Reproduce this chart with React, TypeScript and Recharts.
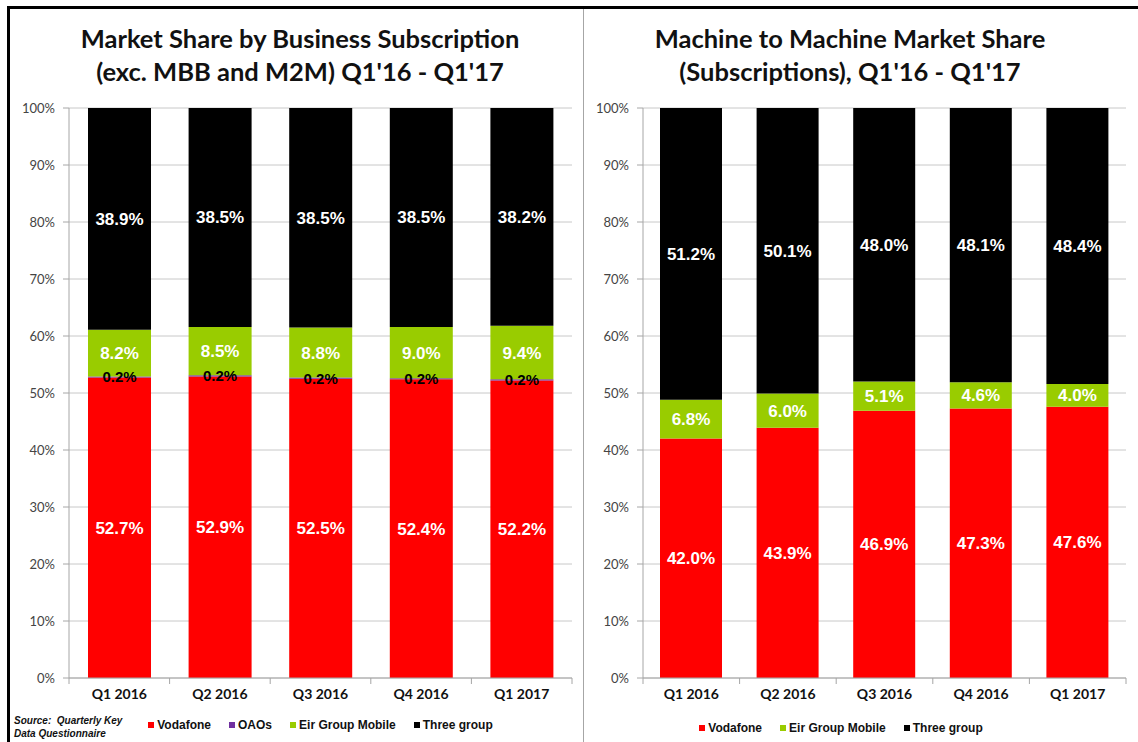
import React from "react";
import { BarChart, Bar, XAxis, YAxis, CartesianGrid, LabelList, Legend } from "recharts";

// categories
const quarters = ["Q1 2016", "Q2 2016", "Q3 2016", "Q4 2016", "Q1 2017"];

// business subscriptions (exc. MBB and M2M), % share
const bizVodafone = [52.7, 52.9, 52.5, 52.4, 52.2];
const bizOaos = [0.2, 0.2, 0.2, 0.2, 0.2];
const bizEir = [8.2, 8.5, 8.8, 9.0, 9.4];
const bizThree = [38.9, 38.5, 38.5, 38.5, 38.2];

// machine to machine subscriptions, % share
const m2mVodafone = [42.0, 43.9, 46.9, 47.3, 47.6];
const m2mEir = [6.8, 6.0, 5.1, 4.6, 4.0];
const m2mThree = [51.2, 50.1, 48.0, 48.1, 48.4];

const yTicks = [0, 10, 20, 30, 40, 50, 60, 70, 80, 90, 100];

const bizData = quarters.map((q, i) => ({
  quarter: q,
  vodafone: bizVodafone[i],
  oaos: bizOaos[i],
  eir: bizEir[i],
  three: bizThree[i],
}));

const m2mData = quarters.map((q, i) => ({
  quarter: q,
  vodafone: m2mVodafone[i],
  eir: m2mEir[i],
  three: m2mThree[i],
}));

const RED = "#FF0000";
const GREEN = "#99CC00";
const PURPLE = "#7030A0";
const BLACK = "#000000";
const GRID = "#c8c8c8";
const AXIS = "#a6a6a6";
const ARIAL = "'Liberation Sans', Arial, sans-serif";
const CALIBRI = "Lato, 'Open Sans', sans-serif";

const pct = (v: any) => `${Number(v).toFixed(1)}%`;

// x tick: label plus Excel-style tick marks between categories
const CategoryTick = (props: any) => {
  const { x, y, payload, index, band } = props;
  const last = index === quarters.length - 1;
  return (
    <g>
      <line x1={x - band / 2} x2={x - band / 2} y1={y} y2={y + 6} stroke={AXIS} />
      {last && <line x1={x + band / 2} x2={x + band / 2} y1={y} y2={y + 6} stroke={AXIS} />}
      <text
        x={x}
        y={y + 21}
        textAnchor="middle"
        fontFamily={CALIBRI}
        fontWeight={700}
        fontSize={14}
        fill="#111"
      >
        {payload.value}
      </text>
    </g>
  );
};

const LegendRow = ({ items }: { items: { name: string; color: string }[] }) => (
  <div
    style={{
      display: "flex",
      justifyContent: "center",
      gap: 18,
      fontFamily: ARIAL,
      fontWeight: 700,
      fontSize: 12,
      color: "#111",
    }}
  >
    {items.map((it) => (
      <span key={it.name} style={{ display: "flex", alignItems: "center" }}>
        <span style={{ width: 6, height: 6, background: it.color, marginRight: 3, display: "inline-block" }} />
        {it.name}
      </span>
    ))}
  </div>
);

const barLabel = { fill: "#fff", fontFamily: ARIAL, fontWeight: 700, fontSize: 17 };

const titleStyle: React.CSSProperties = {
  position: "absolute",
  top: 22,
  textAlign: "center",
  fontFamily: CALIBRI,
  fontWeight: 700,
  fontSize: 25.5,
  lineHeight: "33px",
  color: "#111",
};

export default function App() {
  return (
    <div
      style={{
        position: "absolute",
        left: 0,
        top: 0,
        width: 1138,
        height: 742,
        background: "#fff",
        overflow: "hidden",
      }}
    >
      {/* frame */}
      <div
        style={{
          position: "absolute",
          left: 7,
          top: 6,
          width: 1140,
          height: 760,
          borderLeft: "3px solid #000",
          borderTop: "3px solid #000",
        }}
      />
      <div style={{ position: "absolute", left: 583, top: 9, width: 1, height: 740, background: AXIS }} />

      <div style={{ ...titleStyle, left: 20, width: 560 }}>
        Market Share by Business Subscription
        <br />
        (exc. MBB and M2M) Q1'16 - Q1'17
      </div>
      <div style={{ ...titleStyle, left: 570, width: 560 }}>
        Machine to Machine Market Share
        <br />
        (Subscriptions), Q1'16 - Q1'17
      </div>

      {/* left chart */}
      <div style={{ position: "absolute", left: 0, top: 0 }}>
        <BarChart width={583} height={742} data={bizData} margin={{ top: 108, right: 11, bottom: 34, left: 0 }}>
          <CartesianGrid vertical={false} stroke={GRID} />
          <XAxis
            dataKey="quarter"
            height={30}
            axisLine={{ stroke: AXIS }}
            tickLine={false}
            tickSize={0}
            tickMargin={0}
            interval={0}
            tick={<CategoryTick band={503 / quarters.length} />}
          />
          <YAxis
            width={69}
            domain={[0, 100]}
            ticks={yTicks}
            allowDataOverflow
            tickFormatter={(v) => `${v}%`}
            axisLine={{ stroke: AXIS }}
            tickLine={{ stroke: AXIS }}
            tickSize={6}
            tickMargin={8}
            tick={{ fontFamily: CALIBRI, fontSize: 13, fill: "#444" }}
          />
          <YAxis yAxisId="edge" orientation="right" width={0} tick={false} tickLine={false} axisLine={{ stroke: AXIS }} />
          <Bar dataKey="vodafone" stackId="s" fill={RED} barSize={63} isAnimationActive={false}>
            <LabelList dataKey="vodafone" position="center" formatter={pct} style={barLabel} />
          </Bar>
          <Bar dataKey="oaos" stackId="s" fill={PURPLE} barSize={63} isAnimationActive={false}>
            <LabelList
              dataKey="oaos"
              position="center"
              formatter={pct}
              style={{ ...barLabel, fill: "#000", fontSize: 15 }}
              offset={0}
            />
          </Bar>
          <Bar dataKey="eir" stackId="s" fill={GREEN} barSize={63} isAnimationActive={false}>
            <LabelList dataKey="eir" position="center" formatter={pct} style={barLabel} />
          </Bar>
          <Bar dataKey="three" stackId="s" fill={BLACK} barSize={63} isAnimationActive={false}>
            <LabelList dataKey="three" position="center" formatter={pct} style={barLabel} />
          </Bar>
          <Legend
            verticalAlign="middle"
            align="center"
            wrapperStyle={{ left: 69, top: 718, width: 503 }}
            content={() => (
              <LegendRow
                items={[
                  { name: "Vodafone", color: RED },
                  { name: "OAOs", color: PURPLE },
                  { name: "Eir Group Mobile", color: GREEN },
                  { name: "Three group", color: BLACK },
                ]}
              />
            )}
          />
        </BarChart>
      </div>

      <div
        style={{
          position: "absolute",
          left: 14,
          top: 714,
          fontFamily: ARIAL,
          fontStyle: "italic",
          fontWeight: 700,
          fontSize: 10,
          lineHeight: "13px",
          color: "#111",
        }}
      >
        Source:&nbsp; Quarterly Key
        <br />
        Data Questionnaire
      </div>

      {/* right chart */}
      <div style={{ position: "absolute", left: 583, top: 0 }}>
        <BarChart width={555} height={742} data={m2mData} margin={{ top: 108, right: 12, bottom: 34, left: 0 }}>
          <CartesianGrid vertical={false} stroke={GRID} />
          <XAxis
            dataKey="quarter"
            height={30}
            axisLine={{ stroke: AXIS }}
            tickLine={false}
            tickSize={0}
            tickMargin={0}
            interval={0}
            tick={<CategoryTick band={483 / quarters.length} />}
          />
          <YAxis
            width={60}
            domain={[0, 100]}
            ticks={yTicks}
            allowDataOverflow
            tickFormatter={(v) => `${v}%`}
            axisLine={{ stroke: AXIS }}
            tickLine={{ stroke: AXIS }}
            tickSize={6}
            tickMargin={8}
            tick={{ fontFamily: CALIBRI, fontSize: 13, fill: "#444" }}
          />
          <YAxis yAxisId="edge" orientation="right" width={0} tick={false} tickLine={false} axisLine={{ stroke: AXIS }} />
          <Bar dataKey="vodafone" stackId="s" fill={RED} barSize={62} isAnimationActive={false}>
            <LabelList dataKey="vodafone" position="center" formatter={pct} style={barLabel} />
          </Bar>
          <Bar dataKey="eir" stackId="s" fill={GREEN} barSize={62} isAnimationActive={false}>
            <LabelList dataKey="eir" position="center" formatter={pct} style={barLabel} />
          </Bar>
          <Bar dataKey="three" stackId="s" fill={BLACK} barSize={62} isAnimationActive={false}>
            <LabelList dataKey="three" position="center" formatter={pct} style={barLabel} />
          </Bar>
          <Legend
            verticalAlign="middle"
            align="center"
            wrapperStyle={{ left: 0, top: 721, width: 516 }}
            content={() => (
              <LegendRow
                items={[
                  { name: "Vodafone", color: RED },
                  { name: "Eir Group Mobile", color: GREEN },
                  { name: "Three group", color: BLACK },
                ]}
              />
            )}
          />
        </BarChart>
      </div>
    </div>
  );
}
